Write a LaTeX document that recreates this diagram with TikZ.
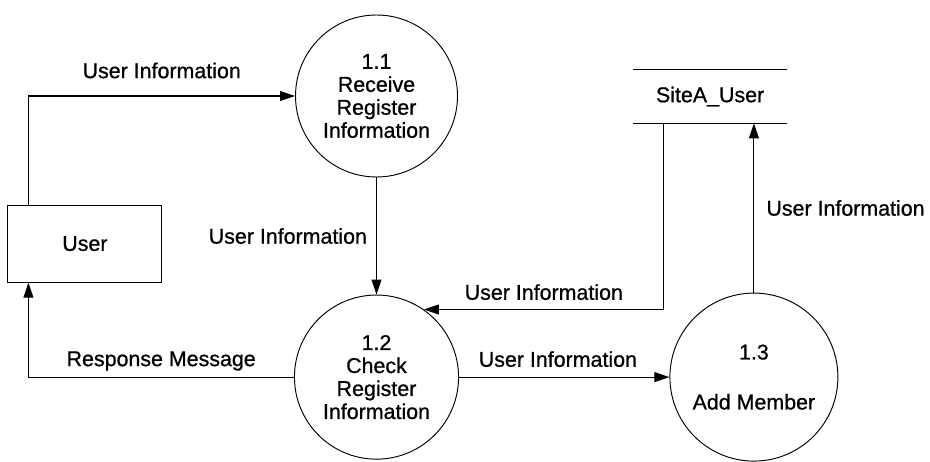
\documentclass[tikz,border=0pt]{standalone}
\usepackage{fontspec}
\setmainfont{Liberation Sans}[FakeBold=0.8]
\usetikzlibrary{arrows.meta}

\tikzset{
  process/.style={draw, circle, line width=0.9pt, align=center, inner sep=0pt},
  entity/.style={draw, rectangle, line width=1pt, minimum width=5.13cm, minimum height=2.57cm},
  store/.style={rectangle, minimum width=5.13cm, minimum height=1.77cm, inner sep=0pt},
  flow/.style={line width=1pt, -{Triangle[length=0.5cm,width=0.33cm]}},
  lbl/.style={inner sep=0pt}
}

\begin{document}
\begin{tikzpicture}[font=\fontsize{20.3}{21.8}\selectfont]
\useasboundingbox (0,0) rectangle (31,-15.37);

% processes, entity and data store
\node[process, minimum size=5.4cm] (p1) at (12.55,-3.2) {1.1\\Receive\\Register\\Information};
\node[process, minimum size=5.47cm] (p2) at (12.55,-12.57) {1.2\\Check\\Register\\Information};
\node[process, minimum size=5.6cm] (p3) at (25.13,-12.57) {1.3\\[0.9cm]Add Member};
\node[entity] (user) at (2.83,-8.12) {User};
\node[store] (st) at (23.67,-3.22) {SiteA\_User};
\draw[line width=1pt] (st.north west) -- (st.north east);
\draw[line width=1pt] (st.south west) -- (st.south east);

% data flows
\draw[flow] ([xshift=0.7cm]user.north west) |- node[lbl, pos=0.75, above=0.57cm] {User Information} (p1);
\draw[flow] (p1) -- node[lbl, left=0.3cm] {User Information} (p2);
\draw[flow] ([xshift=1.03cm]st.south west) |- node[lbl, pos=0.75, above=0.3cm] {User Information} (p2.55);
\draw[flow] (p3.north) -- node[lbl, right=0.4cm] {User Information} (p3.north |- st.south);
\draw[flow] (p2) -- node[lbl, pos=0.47, above=0.32cm] {User Information} (p3);
\draw[flow] (p2) -| node[lbl, pos=0.25, above=0.2cm] {Response Message} ([xshift=0.7cm]user.south west);
\end{tikzpicture}
\end{document}
